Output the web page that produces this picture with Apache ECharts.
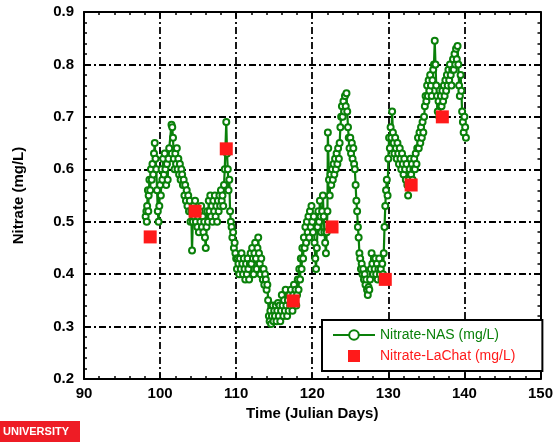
<!DOCTYPE html>
<html>
<head>
<meta charset="utf-8">
<script src="https://cdn.jsdelivr.net/npm/echarts@6/dist/echarts.min.js"></script>
<style>
  html, body { margin: 0; padding: 0; background: #fff; }
  #main { width: 556px; height: 442px; }
</style>
</head>
<body>
<div id="main"></div>
<script>
// Nitrate-NAS (mg/L), [julian day, value]
const nasData = [
  [98.1, 0.51], [98.2, 0.52], [98.25, 0.50], [98.3, 0.53], [98.4, 0.56], [98.45, 0.52], [98.5, 0.55], [98.6, 0.58],
  [98.7, 0.56], [98.8, 0.60], [98.9, 0.58], [99.0, 0.61], [99.1, 0.59], [99.2, 0.63], [99.3, 0.65], [99.4, 0.62],
  [99.5, 0.60], [99.6, 0.56], [99.7, 0.52], [99.8, 0.50], [99.9, 0.53], [100.0, 0.57], [100.1, 0.55], [100.2, 0.60],
  [100.3, 0.58], [100.4, 0.62], [100.5, 0.59], [100.6, 0.63], [100.7, 0.60], [100.8, 0.57], [100.9, 0.61], [101.0, 0.58],
  [101.1, 0.62], [101.2, 0.64], [101.5, 0.685], [101.6, 0.68], [101.7, 0.66], [101.8, 0.62], [101.9, 0.60], [102.0, 0.63],
  [102.1, 0.61], [102.2, 0.64], [102.3, 0.60], [102.4, 0.62], [102.5, 0.59], [102.6, 0.61], [102.7, 0.58], [102.8, 0.60],
  [102.9, 0.59], [103.0, 0.57], [103.1, 0.58], [103.2, 0.55], [103.3, 0.57], [103.4, 0.54], [103.5, 0.56], [103.6, 0.53],
  [103.7, 0.55], [103.8, 0.52], [103.9, 0.54], [104.0, 0.50], [104.1, 0.52], [104.2, 0.445], [104.3, 0.50], [104.4, 0.53],
  [104.5, 0.51], [104.6, 0.54], [104.7, 0.50], [104.8, 0.52], [104.9, 0.49], [105.0, 0.51], [105.1, 0.48], [105.2, 0.52],
  [105.3, 0.50], [105.4, 0.53], [105.5, 0.49], [105.6, 0.51], [105.7, 0.48], [105.8, 0.50], [105.9, 0.47], [106.0, 0.45],
  [106.1, 0.49], [106.2, 0.52], [106.3, 0.50], [106.4, 0.54], [106.5, 0.52], [106.6, 0.55], [106.7, 0.51], [106.8, 0.53],
  [106.9, 0.50], [107.0, 0.54], [107.1, 0.52], [107.2, 0.55], [107.3, 0.51], [107.4, 0.53], [107.5, 0.50], [107.6, 0.54],
  [107.7, 0.52], [107.8, 0.55], [107.9, 0.53], [108.0, 0.56], [108.1, 0.54], [108.2, 0.55], [108.3, 0.53], [108.4, 0.57],
  [108.5, 0.60], [108.7, 0.69], [108.8, 0.63], [108.9, 0.60], [109.0, 0.56], [109.1, 0.58], [109.2, 0.52], [109.3, 0.50],
  [109.4, 0.49], [109.5, 0.47], [109.6, 0.48], [109.7, 0.45], [109.8, 0.46], [109.9, 0.44], [110.0, 0.43], [110.1, 0.41],
  [110.2, 0.43], [110.3, 0.42], [110.4, 0.40], [110.5, 0.43], [110.6, 0.41], [110.7, 0.44], [110.8, 0.42], [110.9, 0.40],
  [111.0, 0.43], [111.1, 0.41], [111.2, 0.39], [111.3, 0.42], [111.4, 0.40], [111.5, 0.43], [111.6, 0.41], [111.7, 0.39],
  [111.8, 0.42], [111.9, 0.44], [112.0, 0.42], [112.1, 0.45], [112.2, 0.43], [112.3, 0.40], [112.4, 0.44], [112.5, 0.46],
  [112.6, 0.43], [112.7, 0.41], [112.8, 0.45], [112.9, 0.47], [113.0, 0.44], [113.1, 0.42], [113.2, 0.40], [113.3, 0.43],
  [113.4, 0.41], [113.5, 0.39], [113.6, 0.41], [113.7, 0.38], [113.8, 0.40], [113.9, 0.39], [114.0, 0.37], [114.1, 0.38],
  [114.2, 0.35], [114.3, 0.32], [114.4, 0.31], [114.5, 0.33], [114.6, 0.305], [114.7, 0.32], [114.8, 0.34], [114.9, 0.31],
  [115.0, 0.33], [115.1, 0.32], [115.2, 0.34], [115.3, 0.31], [115.4, 0.33], [115.5, 0.345], [115.6, 0.32], [115.7, 0.34],
  [115.8, 0.31], [115.9, 0.33], [116.0, 0.36], [116.1, 0.34], [116.2, 0.32], [116.3, 0.35], [116.4, 0.33], [116.5, 0.37],
  [116.6, 0.34], [116.7, 0.32], [116.8, 0.35], [116.9, 0.33], [117.0, 0.36], [117.1, 0.34], [117.2, 0.37], [117.3, 0.35],
  [117.4, 0.33], [117.5, 0.36], [117.6, 0.38], [117.7, 0.35], [117.8, 0.37], [117.9, 0.34], [118.0, 0.36], [118.1, 0.39],
  [118.2, 0.37], [118.3, 0.41], [118.4, 0.39], [118.5, 0.43], [118.6, 0.41], [118.7, 0.45], [118.8, 0.43], [118.9, 0.47],
  [119.0, 0.45], [119.1, 0.49], [119.2, 0.46], [119.3, 0.50], [119.4, 0.48], [119.5, 0.51], [119.6, 0.47], [119.7, 0.52],
  [119.8, 0.49], [119.9, 0.53], [120.0, 0.50], [120.1, 0.48], [120.2, 0.51], [120.3, 0.46], [120.4, 0.43], [120.5, 0.41],
  [120.6, 0.45], [120.7, 0.49], [120.8, 0.52], [120.9, 0.50], [121.0, 0.54], [121.1, 0.51], [121.2, 0.48], [121.3, 0.52],
  [121.4, 0.55], [121.5, 0.51], [121.6, 0.48], [121.7, 0.46], [121.8, 0.44], [121.9, 0.48], [122.0, 0.52], [122.05, 0.67],
  [122.1, 0.64], [122.2, 0.58], [122.3, 0.55], [122.4, 0.59], [122.5, 0.57], [122.6, 0.60], [122.7, 0.58], [122.8, 0.61],
  [122.9, 0.59], [123.0, 0.62], [123.1, 0.60], [123.2, 0.63], [123.3, 0.61], [123.4, 0.64], [123.5, 0.62], [123.6, 0.65],
  [123.7, 0.68], [123.8, 0.70], [123.9, 0.72], [124.0, 0.70], [124.1, 0.73], [124.2, 0.71], [124.3, 0.74], [124.4, 0.72],
  [124.5, 0.745], [124.6, 0.71], [124.7, 0.68], [124.8, 0.66], [124.9, 0.64], [125.0, 0.66], [125.1, 0.63], [125.2, 0.65],
  [125.3, 0.62], [125.4, 0.64], [125.5, 0.61], [125.6, 0.60], [125.7, 0.57], [125.8, 0.54], [125.9, 0.52], [126.0, 0.49],
  [126.1, 0.47], [126.2, 0.44], [126.3, 0.43], [126.4, 0.41], [126.5, 0.42], [126.6, 0.40], [126.7, 0.41], [126.8, 0.39],
  [126.9, 0.40], [127.0, 0.38], [127.1, 0.39], [127.2, 0.37], [127.3, 0.36], [127.4, 0.375], [127.5, 0.37], [127.6, 0.39],
  [127.7, 0.41], [127.8, 0.44], [127.9, 0.42], [128.0, 0.40], [128.1, 0.43], [128.2, 0.41], [128.3, 0.43], [128.4, 0.40],
  [128.5, 0.42], [128.6, 0.39], [128.7, 0.41], [128.8, 0.43], [128.9, 0.40], [129.0, 0.41], [129.1, 0.39], [129.2, 0.42],
  [129.3, 0.40], [129.4, 0.44], [129.5, 0.49], [129.6, 0.53], [129.7, 0.56], [129.8, 0.58], [129.9, 0.55], [130.0, 0.62],
  [130.1, 0.66], [130.2, 0.64], [130.3, 0.68], [130.4, 0.66], [130.5, 0.71], [130.6, 0.67], [130.7, 0.65], [130.8, 0.63],
  [130.9, 0.66], [131.0, 0.64], [131.1, 0.62], [131.2, 0.65], [131.3, 0.63], [131.4, 0.61], [131.5, 0.64], [131.6, 0.62],
  [131.7, 0.60], [131.8, 0.63], [131.9, 0.61], [132.0, 0.59], [132.1, 0.62], [132.2, 0.60], [132.3, 0.58], [132.4, 0.61],
  [132.5, 0.57], [132.6, 0.55], [132.7, 0.58], [132.8, 0.60], [132.9, 0.62], [133.0, 0.59], [133.1, 0.61], [133.2, 0.58],
  [133.3, 0.60], [133.4, 0.62], [133.5, 0.60], [133.6, 0.63], [133.7, 0.61], [133.8, 0.64], [133.9, 0.66], [134.0, 0.64],
  [134.1, 0.67], [134.2, 0.65], [134.3, 0.68], [134.4, 0.66], [134.5, 0.69], [134.6, 0.67], [134.7, 0.70], [134.8, 0.72],
  [134.9, 0.74], [135.0, 0.73], [135.1, 0.76], [135.2, 0.74], [135.3, 0.77], [135.4, 0.75], [135.5, 0.78], [135.6, 0.76],
  [135.7, 0.74], [135.8, 0.77], [135.9, 0.79], [136.0, 0.80], [136.1, 0.845], [136.2, 0.80], [136.3, 0.76], [136.4, 0.74],
  [136.5, 0.71], [136.6, 0.73], [136.7, 0.70], [136.8, 0.72], [136.9, 0.74], [137.0, 0.72], [137.1, 0.75], [137.2, 0.73],
  [137.3, 0.76], [137.4, 0.74], [137.5, 0.77], [137.6, 0.75], [137.7, 0.78], [137.8, 0.76], [137.9, 0.79], [138.0, 0.77],
  [138.1, 0.80], [138.2, 0.78], [138.3, 0.76], [138.4, 0.79], [138.5, 0.81], [138.6, 0.79], [138.7, 0.82], [138.8, 0.80],
  [138.9, 0.83], [139.0, 0.81], [139.1, 0.835], [139.2, 0.80], [139.3, 0.76], [139.4, 0.74], [139.5, 0.78], [139.6, 0.75],
  [139.7, 0.71], [139.8, 0.69], [139.9, 0.67], [140.0, 0.70], [140.1, 0.68], [140.2, 0.66]
];

// Nitrate-LaChat (mg/L) grab samples
const lachatDays = [98.7, 104.6, 108.7, 117.5, 122.6, 129.6, 133.0, 137.1];
const lachatValues = [0.471, 0.52, 0.639, 0.349, 0.49, 0.39, 0.57, 0.70];

const xTicks = [90, 100, 110, 120, 130, 140, 150];
const yTicks = [0.2, 0.3, 0.4, 0.5, 0.6, 0.7, 0.8, 0.9];

const chart = echarts.init(document.getElementById('main'));

const font = 'Liberation Sans, Arial, sans-serif';
const green = '#0a800a';
const gridLine = { show: true, lineStyle: { color: '#000', width: 1.8, type: [7, 3, 2, 3] } };

function xAx(pos, labels) {
  return {
    type: 'value', position: pos, min: xTicks[0], max: xTicks[xTicks.length - 1], interval: 10,
    axisLine: { lineStyle: { color: '#000', width: 2 } },
    axisTick: { inside: true, length: 6, lineStyle: { width: 1.5, color: '#000' } },
    minorTick: { show: true, splitNumber: 5, length: 3, lineStyle: { width: 1.5, color: '#000' } },
    axisLabel: { show: labels, color: '#000', fontWeight: 'bold', fontSize: 15, fontFamily: font, margin: 7 },
    splitLine: labels ? gridLine : { show: false },
    name: labels ? 'Time (Julian Days)' : '', nameLocation: 'middle', nameGap: 19,
    nameTextStyle: { color: '#000', fontWeight: 'bold', fontSize: 15, fontFamily: font }
  };
}
function yAx(pos, labels) {
  return {
    type: 'value', position: pos, min: yTicks[0], max: yTicks[yTicks.length - 1], interval: 0.1,
    axisLine: { lineStyle: { color: '#000', width: 2 } },
    axisTick: { inside: true, length: 6, lineStyle: { width: 1.5, color: '#000' } },
    minorTick: { show: true, splitNumber: 5, length: 3, lineStyle: { width: 1.5, color: '#000' } },
    axisLabel: { show: labels, color: '#000', fontWeight: 'bold', fontSize: 15, fontFamily: font, margin: 10,
      formatter: v => v.toFixed(1) },
    splitLine: labels ? gridLine : { show: false },
    name: labels ? 'Nitrate (mg/L)' : '', nameLocation: 'middle', nameGap: 58, nameRotate: 90,
    nameTextStyle: { color: '#000', fontWeight: 'bold', fontSize: 15, fontFamily: font }
  };
}

chart.setOption({
  animation: false,
  backgroundColor: '#fff',
  grid: { left: 84, right: 12, top: 12, bottom: 63 },
  xAxis: [xAx('bottom', true), xAx('top', false)],
  yAxis: [yAx('left', true), yAx('right', false)],
  legend: {
    orient: 'vertical', left: 322, top: 320, itemWidth: 42, itemHeight: 12, itemGap: 7,
    padding: [8, 27, 8, 10],
    borderColor: '#000', borderWidth: 2, backgroundColor: '#fff',
    textStyle: { fontFamily: font, fontSize: 14 },
    data: [
      { name: 'Nitrate-NAS (mg/L)', textStyle: { color: green } },
      { name: 'Nitrate-LaChat (mg/L)', icon: 'path://M0,0H10V10H0Z', textStyle: { color: '#ff1a1a' } }
    ]
  },
  graphic: [
    { type: 'rect', left: 0, top: 421, shape: { width: 80, height: 21 }, style: { fill: '#ee1c25' } },
    { type: 'text', left: 3, top: 426, style: { text: 'UNIVERSITY', fill: '#fff', font: 'bold 11px ' + font } }
  ],
  series: [
    {
      name: 'Nitrate-NAS (mg/L)', type: 'line', data: nasData,
      showAllSymbol: true, symbol: 'circle', symbolSize: 6,
      lineStyle: { color: green, width: 2.2 },
      itemStyle: { color: '#fff', borderColor: green, borderWidth: 2 },
      z: 2
    },
    {
      name: 'Nitrate-LaChat (mg/L)', type: 'scatter',
      data: lachatDays.map((d, i) => [d, lachatValues[i]]),
      symbol: 'rect', symbolSize: 13,
      itemStyle: { color: '#ff1a1a', opacity: 1 },
      z: 3
    }
  ]
});
</script>
</body>
</html>
